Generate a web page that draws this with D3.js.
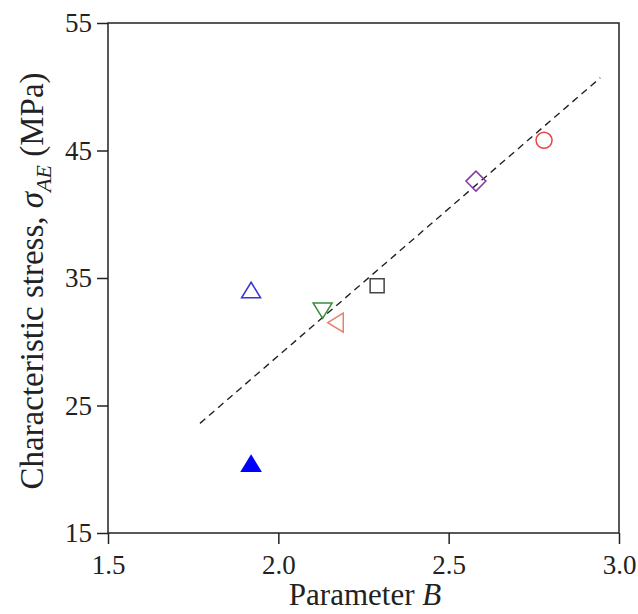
<!DOCTYPE html>
<html>
<head>
<meta charset="utf-8">
<script src="https://cdn.jsdelivr.net/npm/d3@7"></script>
<style>
  body { margin: 0; background: #fff; }
  text { font-family: "Liberation Serif", "Times New Roman", serif; }
</style>
</head>
<body>
<div id="chart"></div>
<script>
const WIDTH = 638
const HEIGHT = 614
const MARGIN = {top: 23, right: 19, bottom: 81, left: 108}

// data
const POINT_B = [1.92, 1.92, 2.13, 2.17, 2.29, 2.58, 2.78]
const POINT_STRESS = [34.0, 20.4, 32.5, 31.5, 34.4, 42.6, 45.8]
const POINT_SHAPE = ['up', 'up', 'down', 'left', 'square', 'diamond', 'circle']
const POINT_FILLED = [false, true, false, false, false, false, false]
const POINT_COLOR = ['#3535d8', '#0000ff', '#3c8c3c', '#e8806c', '#444444', '#8a3aa8', '#e84545']
const FIT_B = [1.77, 2.945]
const FIT_STRESS = [23.6, 50.7]
const X_TICKS = [1.5, 2.0, 2.5, 3.0]
const Y_TICKS = [15, 25, 35, 45, 55]

const svg = d3.select('#chart').append('svg')
  .attr('width', WIDTH).attr('height', HEIGHT)

const innerW = WIDTH - MARGIN.left - MARGIN.right
const innerH = HEIGHT - MARGIN.top - MARGIN.bottom

const x = d3.scaleLinear().domain([1.5, 3.0]).range([MARGIN.left, MARGIN.left + innerW])
const y = d3.scaleLinear().domain([15, 55]).range([MARGIN.top + innerH, MARGIN.top])

// frame
svg.append('rect')
  .attr('x', MARGIN.left).attr('y', MARGIN.top)
  .attr('width', innerW).attr('height', innerH)
  .attr('fill', 'none').attr('stroke', '#222').attr('stroke-width', 1.5)

// axes
const xAxis = svg.append('g')
  .attr('transform', `translate(0, ${MARGIN.top + innerH})`)
  .call(d3.axisBottom(x).tickValues(X_TICKS).tickFormat(d3.format('.1f')).tickSize(11).tickPadding(11))
const yAxis = svg.append('g')
  .attr('transform', `translate(${MARGIN.left}, 0)`)
  .call(d3.axisLeft(y).tickValues(Y_TICKS).tickSize(11).tickPadding(5))

;[xAxis, yAxis].forEach(g => {
  g.select('.domain').remove()
  g.attr('font-size', null).attr('font-family', null)
  g.selectAll('.tick line').attr('stroke', '#222').attr('stroke-width', 1.5)
  g.selectAll('.tick text')
    .attr('fill', '#222')
    .style('font-family', '"Liberation Serif", serif')
    .style('font-size', '27px')
})

// fitted line
const line = d3.line().x(d => x(d[0])).y(d => y(d[1]))
svg.append('path')
  .datum(FIT_B.map((b, i) => [b, FIT_STRESS[i]]))
  .attr('d', line)
  .attr('fill', 'none')
  .attr('stroke', '#222')
  .attr('stroke-width', 1.4)
  .attr('stroke-dasharray', '7,5')

// markers
const shapePath = (shape) => {
  switch (shape) {
    case 'up': return 'M0,-8.5L9.5,7L-9.5,7Z'
    case 'down': return 'M0,8.5L9.5,-7L-9.5,-7Z'
    case 'left': return 'M-8.5,0L7,-9.5L7,9.5Z'
    case 'square': return 'M-7,-7H7V7H-7Z'
    case 'diamond': return 'M0,-10L10,0L0,10L-10,0Z'
  }
}

const points = POINT_B.map((b, i) => ({
  b, s: POINT_STRESS[i], shape: POINT_SHAPE[i], filled: POINT_FILLED[i], color: POINT_COLOR[i]
}))

const marks = svg.append('g').selectAll('g').data(points).enter().append('g')
  .attr('transform', d => `translate(${x(d.b)}, ${y(d.s)})`)

marks.each(function(d) {
  const g = d3.select(this)
  const el = d.shape === 'circle'
    ? g.append('circle').attr('r', 8)
    : g.append('path').attr('d', shapePath(d.shape))
  el.attr('fill', d.filled ? d.color : 'none')
    .attr('stroke', d.color)
    .attr('stroke-width', 1.5)
})

// axis titles
const xt = svg.append('text')
  .attr('x', 365)
  .attr('y', 605)
  .attr('text-anchor', 'middle')
  .style('font-size', '31px')
  .attr('fill', '#222')
xt.append('tspan').text('Parameter ')
xt.append('tspan').attr('font-style', 'italic').text('B')

const yt = svg.append('text')
  .attr('transform', `translate(43, 281) rotate(-90)`)
  .attr('text-anchor', 'middle')
  .style('font-size', '33px')
  .attr('fill', '#222')
yt.append('tspan').text('Characteristic stress, ')
yt.append('tspan').attr('font-style', 'italic').text('σ')
yt.append('tspan').attr('font-style', 'italic').attr('dy', 8).style('font-size', '22px').text('AE')
yt.append('tspan').attr('dy', -8).text(' (MPa)')
</script>
</body>
</html>
